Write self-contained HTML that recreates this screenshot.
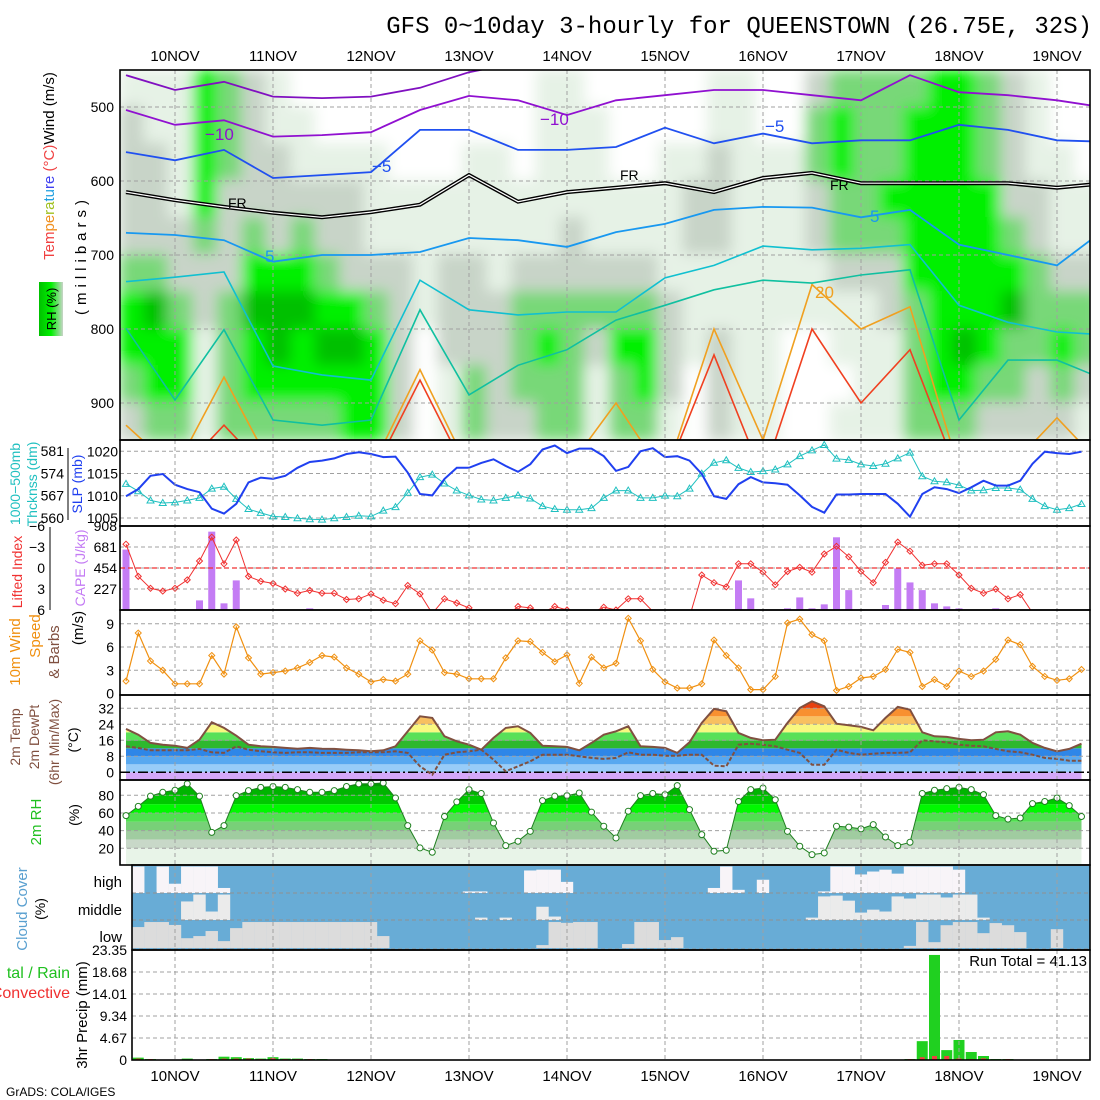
<!DOCTYPE html>
<html><head><meta charset="utf-8"><title>GFS meteogram QUEENSTOWN</title>
<style>
html,body{margin:0;padding:0;background:#fff;}
svg{display:block;font-family:"Liberation Sans",sans-serif;}
.mono{font-family:"Liberation Mono",monospace;}
</style></head>
<body>
<svg id="chart" width="1100" height="1100" viewBox="0 0 1100 1100" xmlns="http://www.w3.org/2000/svg">
<defs>
<clipPath id="c1"><rect x="120" y="70" width="970" height="370"/></clipPath>
<clipPath id="c2"><rect x="120" y="440" width="970" height="86"/></clipPath>
<clipPath id="c3"><rect x="120" y="526" width="970" height="84"/></clipPath>
<clipPath id="c4"><rect x="120" y="610" width="970" height="85"/></clipPath>
<clipPath id="c7"><rect x="132" y="866" width="958" height="84"/></clipPath>
<filter id="blur" x="-5%" y="-5%" width="110%" height="110%"><feGaussianBlur stdDeviation="7"/></filter>
<linearGradient id="rhg" x1="0" y1="0" x2="1" y2="0"><stop offset="0" stop-color="#00c000"/><stop offset="0.5" stop-color="#00f000"/><stop offset="1" stop-color="#c8d4c8"/></linearGradient>
</defs>
<rect x="0" y="0" width="1100" height="1100" fill="#fff"/>
<text class="mono" x="1092" y="33" font-size="24" text-anchor="end">GFS 0~10day 3-hourly for QUEENSTOWN (26.75E, 32S)</text>
<g id="plots"></g>
<g id="labels" font-size="15"></g>
</svg>
<script>
// ===== data (3-hourly, k = 0..78, starting 09NOV 12Z) =====
const dayLabels = ["10NOV","11NOV","12NOV","13NOV","14NOV","15NOV","16NOV","17NOV","18NOV","19NOV"];
const pressTicks = [500,600,700,800,900];
// upper-air RH (%), 6-hourly columns, each column: 450-500 ... 900-950 mb bands
const rhUpper = [
[20,40,40,40,40,60,80,80,60,40],[20,20,40,40,40,60,95,80,80,60],[20,20,20,20,40,40,60,80,80,60],[80,80,80,80,60,40,40,20,20,20],
[60,60,60,40,40,40,60,60,60,60],[40,40,40,40,60,80,95,80,80,60],[20,20,40,40,40,80,95,95,80,60],[5,20,20,40,60,80,95,80,80,60],
[5,5,20,40,40,60,80,95,80,60],[5,5,20,40,40,40,80,95,80,80],[5,5,20,20,20,40,60,80,80,80],[5,5,5,20,20,40,40,40,40,40],
[5,5,5,20,20,20,20,5,5,5],[5,5,5,20,20,40,40,40,20,20],[5,5,20,20,20,40,40,40,60,60],[5,5,20,20,20,20,40,40,40,40],
[5,5,5,20,20,40,60,60,60,40],[20,20,20,20,20,40,60,80,60,60],[20,20,20,20,40,40,60,60,60,60],[5,20,20,20,20,40,60,40,20,20],
[5,5,5,20,20,40,60,80,60,60],[5,5,5,20,20,40,60,80,80,60],[5,5,20,20,20,20,40,40,40,20],[5,5,20,40,40,20,20,20,5,5],
[20,20,40,40,40,20,20,40,40,40],[20,20,20,20,20,20,20,20,20,20],[5,5,20,20,20,20,20,20,20,20],[5,5,20,20,20,20,20,5,5,5],
[40,60,60,40,40,20,20,5,5,5],[60,80,80,60,60,40,20,20,5,20],[60,60,60,60,60,40,20,20,20,20],[60,60,60,80,60,40,40,20,20,20],
[60,80,80,80,80,80,60,60,60,60],[80,80,80,80,80,80,80,80,80,60],[80,80,80,80,80,80,80,95,80,60],[60,60,60,80,80,80,80,80,60,40],
[40,40,40,40,60,80,95,60,60,40],[20,20,20,40,40,60,60,60,40,40],[5,5,20,20,20,40,60,80,60,40],[5,5,5,20,20,40,60,60,40,20]];
// temperature contours: pressure (mb) of isotherm, 12-hourly
const isoM15 = [457,477,466,486,488,486,474,453,440,440,440,440,440,440,440,440,440,440,440,440,440];
const isoM10 = [504,524,518,540,538,534,504,485,491,511,491,484,477,477,484,491,457,480,484,491,501];
const isoM5  = [561,572,558,596,592,588,531,531,558,558,554,528,549,536,549,545,545,524,531,545,547];
const isoFR  = [615,626,635,643,649,642,632,592,628,615,609,603,615,596,589,603,603,603,603,609,603];
const isoP5  = [670,673,680,709,700,700,696,677,680,689,669,658,639,635,636,649,639,686,700,714,664];
const isoP10 = [736,730,723,850,862,869,734,774,781,777,777,731,714,688,693,691,686,768,791,804,808];
const isoP15 = [799,896,801,923,930,923,774,889,849,828,788,768,747,734,738,727,720,923,842,842,869];
const isoP20 = [930,990,865,990,990,990,855,990,990,990,900,1000,800,950,740,800,770,990,990,920,990];
const isoP25 = [1000,1000,930,1000,1000,1000,869,1000,1000,1000,1000,1000,835,1000,800,900,828,1000,1000,1000,1000];
const slp = [1009.9,1011.5,1014.5,1014.9,1012.5,1011.5,1010.8,1007.1,1006,1008.2,1013,1014.1,1013.8,1014.5,1016.3,1017.6,1017.9,1018.4,1019.4,1019.8,1019.4,1018.7,1018.8,1015.2,1010.4,1010.1,1013.8,1016.3,1016.3,1017.4,1018.2,1016.7,1015.4,1017.1,1020.4,1021.3,1019.6,1020.6,1020.6,1018.9,1015.6,1016.5,1020,1020.7,1018.7,1018.9,1017.9,1014.9,1009.9,1009.3,1012.6,1014.2,1013,1012.8,1012.5,1010.1,1007.5,1006.2,1010.3,1010.3,1010.4,1010.4,1010.4,1008.2,1005.3,1010.4,1011.9,1011.5,1010.6,1011.9,1013.4,1012.3,1012.3,1013.4,1017.2,1019.9,1019.6,1019.4,1019.9];
const thick = [570.7,568.4,565.5,564.7,564.9,565.5,566.3,569.2,569.8,566,562.8,561.6,560.5,560.3,559.9,559.6,559.5,559.9,560.3,560.7,560.5,562.3,563.4,567.9,572.8,573.6,570.8,568.6,567.1,565.8,565.5,566.3,567.1,566.1,563.7,562.8,562.6,562.6,563.1,566.3,568.6,568.6,566.3,566.3,567,566.8,569.2,573.9,577.3,578.1,575.7,574.4,574.7,575.2,576.8,579.4,581.2,582.9,578.6,578.2,576.8,576.3,577,578.7,580.5,573.1,571.5,571.2,570.3,568.6,568.7,569.4,569.4,568.9,566,563.7,562.6,563.1,564.4];
const liftedIndex = [-3.4,1.2,2.9,3.3,2.9,1.7,-1,-4.4,-0.6,-4,1.2,1.9,2.2,3,3.6,3.2,3.6,3.6,4.5,4.4,3.7,4.6,5.1,2.5,3.7,6.5,4.4,5,5.7,7,7,7,5.5,5.7,6.4,5.5,6,6.4,6.4,5.6,6,4.4,4.4,6.2,7,7,7,1,2.1,2.7,-0.6,-0.6,0.6,2.4,0.5,-0.1,0.6,-2,-3.1,-1.6,0.5,2.1,-0.8,-3.7,-2.4,-0.4,-0.6,-0.6,1,2.9,3.6,3,4.4,3.8,6.4,7,7,7,7];
const cape = [653,7,0,7,0,0,104,847,72,320,5,5,5,5,5,18,5,5,5,5,5,5,5,0,0,0,0,0,0,0,0,0,0,0,0,0,0,0,0,0,0,0,7,0,0,0,0,0,0,0,320,126,0,0,18,136,18,61,786,215,7,0,54,449,298,215,72,39,18,0,5,18,5,5,0,0,0,0,0];
const windSpd = [1.6,7.8,4.2,3,1.25,1.25,1.25,4.9,2.5,8.6,4.6,2.5,2.7,2.9,3.3,4,4.9,4.7,3.3,2.5,1.5,1.8,1.6,2.5,6.8,5.6,2.7,2.5,1.9,1.9,1.9,4.6,6.8,6.7,5.3,4.1,5,1.3,4.7,3.3,3.9,9.7,6.8,3.1,1.5,0.7,0.7,1.25,6.9,4.9,3.3,0.5,0.5,2.2,9.1,9.6,7.6,6.8,0.4,0.9,2,2.2,3.1,5.7,5.3,0.9,1.8,0.9,2.9,2.2,2.9,4.4,6.9,6.3,3.5,2.2,1.7,1.9,3.1];
const temp2m = [21.7,18.8,14.7,13.8,13.3,12.2,16.3,25,22.2,18.3,13.8,13,12.7,12.2,11.8,12.2,11.8,11.7,11.3,11,10.5,11,13,20.5,28,27.2,18,15.5,13.8,11.3,17.2,22.2,23,19.7,13.3,13,12.7,11,14.7,18.8,20.5,23,13,12.7,12.2,9.7,15,24.7,31.7,30.5,19.7,17.2,16,16.3,24.7,32.2,35.5,33,24.3,23.5,22.7,21,27.2,32.7,31.3,20,18,17.7,16.7,16,16.3,20,20.5,18.8,14.7,12.2,10.5,11.7,14.3];
const dew2m = [13,12.2,11,11,11,11,11.7,10,9.7,13,11.3,10.5,10,9.7,10,10,9.7,9.7,9.7,10,10,10,10.5,9.7,3,-1.2,8.8,10,10.5,11.3,6.3,0.5,3,5.5,8.8,8.8,8.8,8,7.2,6.7,7.2,10,8.8,8.8,8.3,8.3,8.8,8.8,3.3,3,13.8,14.3,13.8,13,11.3,9.7,3.8,3.8,11.3,9.7,8.8,9.3,9.7,9.7,10,16,15.5,15,13.8,13.3,13,11.7,10.5,10,8.8,7.2,6.7,5.8,5.8];
const rh2m = [57,67.5,79,83.4,85.7,93,79,38,45.7,79.6,85.3,89,90,89,86.4,83.4,83.4,85.3,90,93,93,94,77,45.7,20.4,15.5,56,72.5,86.4,82,48.7,23,28,39.2,74,79,79.6,82.6,61,45,31.7,62,79.6,82,80.8,91,63.8,35.5,16.6,17.7,73,86.4,88.3,75,39.2,22.3,12.8,14.7,45,44,42,46.8,32.8,23,26.8,82,85.7,87.5,89,86.4,80.8,57,53,54.3,70.6,73,77,68.3,56];
const cloudHigh = [0,100,0,100,35,100,100,100,19,0,0,0,0,0,0,0,0,0,0,0,0,0,0,0,0,0,0,0,6,6,0,0,0,85,88,88,42,0,0,0,0,0,0,0,0,0,0,0,19,100,12,0,50,0,0,0,0,6,100,100,70,81,88,73,100,100,100,100,88,0,0,0,0,0,0,0,0,0,0];
const cloudMid = [0,0,0,0,0,70,96,32,96,0,0,0,0,0,0,0,0,0,0,0,0,0,0,0,0,0,0,0,0,9,0,9,0,0,50,13,0,0,0,0,0,0,0,0,0,0,0,0,0,0,0,0,0,0,0,0,9,89,92,73,28,39,32,89,81,96,96,85,96,96,9,0,0,0,0,0,0,0,0];
const cloudLow = [0,79,98,98,87,37,45,64,26,75,98,98,98,98,98,98,98,98,98,98,98,45,0,0,0,0,0,0,0,0,0,0,0,0,11,98,95,98,98,0,0,15,98,98,30,41,0,0,0,0,0,0,0,0,0,0,0,0,0,0,0,0,0,0,8,98,22,86,98,98,56,94,86,60,0,0,71,0,0];
const precipTotal = [0,0.5,0.2,0.1,0.1,0.3,0.1,0.2,0.7,0.6,0.4,0.3,0.6,0.3,0.3,0.2,0.2,0.1,0,0,0,0,0,0,0,0,0,0,0,0,0,0,0,0,0,0,0,0,0,0.1,0,0,0,0,0,0,0,0,0,0,0,0,0,0,0,0,0,0,0,0,0,0,0,0,0.2,4,22.3,2.1,4.25,1.7,0.85,0.2,0.2,0,0,0,0,0,0];
const precipConv = [0,0.3,0.2,0.1,0.1,0.1,0.1,0.2,0.3,0.3,0.3,0.2,0.4,0.2,0.2,0.2,0.1,0.1,0,0,0,0,0,0,0,0,0,0,0,0,0,0,0,0,0,0,0,0,0,0,0,0,0,0,0,0,0,0,0,0,0,0,0,0,0,0,0,0,0,0,0,0,0,0,0.2,0.6,0.85,0.85,0.35,0.2,0.35,0,0.2,0,0,0,0,0,0];
const slpTicks = [1005,1010,1015,1020];
const thickTicks = [560,567,574,581];
const capeTicks = [227,454,681,908];
const liTicks = [-6,-3,0,3,6];
const windTicks = [0,3,6,9];
const tempTicks = [0,8,16,24,32];
const rhTicks = [20,40,60,80];
const precipTicks = [0,4.67,9.34,14.01,18.68,23.35];
const runTotal = "41.13";

// ===== scales =====
const NS = "http://www.w3.org/2000/svg";
const X = k => 126 + 12.25*k;
const DX = d => 175 + 98*d;
const PY = p => 107 + (p-500)*0.74;
const SY = v => 451.3 + (1020-v)*4.45;
const TKY = v => 451 + (581-v)*3.19;
const LIY = v => 568 + v*7;
const CAY = v => 610 - v*84/908;
const WY = v => 693.5 - v*7.75;
const TY = v => 772.3 - v*2;
const RY = v => 795.3 + (80-v)*0.883;
const PRY = v => 1060 - v*110/23.35;

const plots = document.getElementById('plots');
const labels = document.getElementById('labels');
function el(tag, attrs, parent){ const e=document.createElementNS(NS,tag); for(const a in attrs) e.setAttribute(a,attrs[a]); (parent||plots).appendChild(e); return e; }
function group(clip){ const g=el('g', clip?{'clip-path':'url(#'+clip+')'}:{}); return g; }
function pts(arr, fx, fy){ return arr.map((v,i)=>fx(i).toFixed(1)+','+fy(v).toFixed(1)).join(' '); }

// ===== panel 1: upper air =====
const g1 = group('c1');
const rhCol = v => v>=90?'#00c000':v>=70?'#00f000':v>=50?'#78d878':v>=30?'#c8d4c8':v>=10?'#e6f2e6':'#ffffff';
const gBlur = el('g',{filter:'url(#blur)'},g1);
rhUpper.forEach((col,i)=>{ col.forEach((v,r)=>{
  const c = el('rect',{x:120+24.5*i-1,y:PY(450+50*r)-1,width:26.5,height:39,fill:rhCol(v)},gBlur);
  
  
});});
pressTicks.forEach(p=>{ const l=el('line',{x1:120,x2:1090,y1:PY(p),y2:PY(p),stroke:'#a0a0a0','stroke-dasharray':'4,3'},g1);
    });
dayLabels.forEach((d,i)=>{ const l=el('line',{x1:DX(i),x2:DX(i),y1:70,y2:440,stroke:'#a0a0a0','stroke-dasharray':'4,3'},g1);
    });
const iso = [[isoP25,'#f04020',1.6,'isotherm-25'],[isoP20,'#f0a020',1.6,'isotherm-20'],[isoP15,'#10c0a0',1.6,'isotherm-15'],[isoP10,'#10c0d0',1.6,'isotherm-10'],[isoP5,'#1898f0',1.8,'isotherm-5'],[isoM5,'#2050f0',1.8,'isotherm-minus5'],[isoM10,'#9010d0',1.8,'isotherm-minus10'],[isoM15,'#8010c0',1.8,'isotherm-minus15']];
iso.forEach(s=>{ const l=el('polyline',{points:pts(s[0],j=>X(4*j),PY),fill:'none',stroke:s[1],'stroke-width':s[2]},g1);
    });
const fr1 = el('polyline',{points:pts(isoFR,j=>X(4*j),PY),fill:'none',stroke:'#000','stroke-width':4},g1);
 
const fr2 = el('polyline',{points:pts(isoFR,j=>X(4*j),PY),fill:'none',stroke:'#fff','stroke-width':1.2},g1);
 
[['−10',205,140,'#9010d0'],['−10',540,125,'#9010d0'],['−5',372,172,'#2050f0'],['−5',765,132,'#2050f0'],['FR',228,208,'#000'],['FR',620,180,'#000'],['FR',830,190,'#000'],['5',265,262,'#1898f0'],['5',870,222,'#1898f0'],['20',815,298,'#f0a020']].forEach(t=>{
  const e=el('text',{x:t[1],y:t[2],fill:t[3],'font-size':t[0]==='FR'?14:17},g1); e.textContent=t[0];
    });

// ===== panel 2: SLP & thickness =====
const g2 = group('c2');
slpTicks.forEach(v=>{ const l=el('line',{x1:120,x2:1090,y1:SY(v),y2:SY(v),stroke:'#a0a0a0','stroke-dasharray':'4,3'},g2);
    });
const thkLine = el('polyline',{points:pts(thick,X,TKY),fill:'none',stroke:'#20c0c0','stroke-width':1},g2);
 
thick.forEach((v,k)=>{ const x=X(k), y=TKY(v); const m=el('polygon',{points:`${x},${y-3.5} ${x-3.5},${y+2.5} ${x+3.5},${y+2.5}`,fill:'none',stroke:'#20c0c0','stroke-width':1},g2);
    });
const slpLine = el('polyline',{points:pts(slp,X,SY),fill:'none',stroke:'#2040f0','stroke-width':2},g2);
 

// ===== panel 3: CAPE & LI =====
const g3 = group('c3');
capeTicks.slice(0,3).forEach(v=>{ const l=el('line',{x1:120,x2:1090,y1:CAY(v),y2:CAY(v),stroke:'#a0a0a0','stroke-dasharray':'4,3'},g3);
    });
cape.forEach((v,k)=>{ if(v<=0) return; const b=el('rect',{x:X(k)-3.5,y:CAY(v),width:7,height:610-CAY(v),fill:'#c47cf4'},g3);
    });
const li0 = el('line',{x1:120,x2:1090,y1:LIY(0),y2:LIY(0),stroke:'#f03030','stroke-dasharray':'5,3','stroke-width':1.2},g3);
 
const liLine = el('polyline',{points:pts(liftedIndex,X,LIY),fill:'none',stroke:'#f03030','stroke-width':1},g3);
 
liftedIndex.forEach((v,k)=>{ if(v>6) return; const x=X(k), y=LIY(v); const m=el('polygon',{points:`${x},${y-3} ${x+3},${y} ${x},${y+3} ${x-3},${y}`,fill:'none',stroke:'#f03030'},g3);
    });

// ===== panel 4: wind =====
const g4 = group('c4');
windTicks.slice(1).forEach(v=>{ const l=el('line',{x1:120,x2:1090,y1:WY(v),y2:WY(v),stroke:'#a0a0a0','stroke-dasharray':'4,3'},g4);
    });
const wLine = el('polyline',{points:pts(windSpd,X,WY),fill:'none',stroke:'#f09010','stroke-width':1.2},g4);
 
windSpd.forEach((v,k)=>{ const x=X(k), y=WY(v); const m=el('polygon',{points:`${x},${y-3} ${x+3},${y} ${x},${y+3} ${x-3},${y}`,fill:'none',stroke:'#f09010'},g4);
    });

// ===== panel 5: temperature =====
const g5 = group(null);
const tclip = el('clipPath',{id:'tclip'},document.querySelector('defs'));
el('polygon',{points:`${X(0)},780 `+pts(temp2m,X,TY)+` ${X(78)},780`},tclip);
const gT = el('g',{'clip-path':'url(#tclip)'},g5);
[[-10,0,'#d4a8f8'],[0,4,'#98ccf8'],[4,8,'#58a8f0'],[8,12,'#2e86e8'],[12,16,'#2eb82e'],[16,20,'#58e058'],[20,24,'#f8f880'],[24,28,'#f8c060'],[28,32,'#f89030'],[32,45,'#e84010']].forEach(b=>{
  const r=el('rect',{x:120,y:TY(b[1]),width:970,height:TY(b[0])-TY(b[1]),fill:b[2]},gT);
    });
tempTicks.slice(1).forEach(v=>{ const l=el('line',{x1:120,x2:1090,y1:TY(v),y2:TY(v),stroke:'#a0a0a0','stroke-dasharray':'4,3'},g5);
    });
const zl = el('line',{x1:120,x2:1090,y1:TY(0),y2:TY(0),stroke:'#000','stroke-dasharray':'10,3,2,3','stroke-width':1.5},g5);
 
const dLine = el('polyline',{points:pts(dew2m,X,TY),fill:'none',stroke:'#805040','stroke-width':2,'stroke-dasharray':'4,2'},g5);
 
const tLine = el('polyline',{points:pts(temp2m,X,TY),fill:'none',stroke:'#805040','stroke-width':2},g5);
 

// ===== panel 6: 2m RH =====
const g6 = group(null);
const rclip = el('clipPath',{id:'rclip'},document.querySelector('defs'));
el('polygon',{points:`${X(0)},865 `+pts(rh2m,X,RY)+` ${X(78)},865`},rclip);
const gR = el('g',{'clip-path':'url(#rclip)'},g6);
[[0,20,'#e8f4e8'],[20,30,'#c8d8c8'],[30,40,'#a0cca0'],[40,50,'#78d078'],[50,60,'#50e050'],[60,70,'#00f800'],[70,80,'#00c800'],[80,90,'#00b400'],[90,101,'#009a00']].forEach(b=>{
  const r=el('rect',{x:120,y:RY(b[1]),width:970,height:RY(b[0])-RY(b[1]),fill:b[2]},gR);
    });
rhTicks.forEach(v=>{ const l=el('line',{x1:120,x2:1090,y1:RY(v),y2:RY(v),stroke:'#a0a0a0','stroke-dasharray':'4,3'},g6);
    });
const rLine = el('polyline',{points:pts(rh2m,X,RY),fill:'none',stroke:'#208020','stroke-width':1},g6);
 
rh2m.forEach((v,k)=>{ const c=el('circle',{cx:X(k),cy:RY(v),r:3,fill:'#fff',stroke:'#208020'},g6);
    });

// ===== panel 7: clouds =====
const g7 = group('c7');
const bg7 = el('rect',{x:132,y:866,width:958,height:84,fill:'#68acd6'},g7);
 
[[cloudHigh,893,'#f8f4f8','cloud-high-bar'],[cloudMid,920,'#ebebeb','cloud-middle-bar'],[cloudLow,948,'#dcdcdc','cloud-low-bar']].forEach(s=>{
  s[0].forEach((v,k)=>{ if(v<=0) return; const h=v*0.265; const b=el('rect',{x:X(k)-6.2,y:s[1]-h,width:12.4,height:h,fill:s[2]},g7);
      }); });
[893,920,949].forEach(y=>{ const l=el('line',{x1:132,x2:1090,y1:y,y2:y,stroke:'#909090','stroke-dasharray':'4,3'},g7);
    });

// ===== panel 8: precip =====
const g8 = group(null);
precipTicks.slice(1).forEach(v=>{ const l=el('line',{x1:132,x2:1090,y1:PRY(v),y2:PRY(v),stroke:'#a0a0a0','stroke-dasharray':'4,3'},g8);
    });
precipTotal.forEach((v,k)=>{ if(v<=0) return; const b=el('rect',{x:X(k)-5.5,y:PRY(v),width:11,height:1060-PRY(v),fill:'#20d020'},g8);
    });
precipConv.forEach((v,k)=>{ if(v<=0) return; const b=el('rect',{x:X(k)-2.5,y:PRY(v),width:5,height:1060-PRY(v),fill:'#f04040'},g8);
    });
const rt = el('text',{x:1087,y:966,'font-size':15,'text-anchor':'end'},g8); rt.textContent='Run Total = '+runTotal;
 

// day gridlines for lower panels
dayLabels.forEach((d,i)=>{
  [[440,865,120],[866,1060,132]].forEach(r=>{ const l=el('line',{x1:DX(i),x2:DX(i),y1:r[0],y2:r[1],stroke:'#a0a0a0','stroke-dasharray':'4,3'});
      });
  const t1=el('text',{x:DX(i),y:61,'font-size':15,'text-anchor':'middle'},labels); t1.textContent=d;
   
  const t2=el('text',{x:DX(i),y:1081,'font-size':15,'text-anchor':'middle'},labels); t2.textContent=d;
   
});

// frames
[[120,70,970,370],[120,440,970,86],[120,526,970,84],[120,610,970,85],[120,695,970,85],[120,780,970,85],[132,865,958,85],[132,950,958,110]].forEach(f=>{
  const r=el('rect',{x:f[0],y:f[1],width:f[2],height:f[3],fill:'none',stroke:'#000','stroke-width':1.6});
    });

// tick labels
function tick(txt,x,y,name,anchor,col,size){ const t=el('text',{x:x,y:y,'font-size':size||14,'text-anchor':anchor||'end',fill:col||'#000'},labels); t.textContent=txt;
    return t; }
pressTicks.forEach(p=>tick(p,114,PY(p)+5,'pressure-tick'));
slpTicks.forEach(v=>tick(v,118,SY(v)+5,'slp-tick'));
thickTicks.forEach(v=>tick(v,64,TKY(v)+5,'thickness-tick'));
capeTicks.forEach(v=>tick(v,117,CAY(v)+5,'cape-tick'));
liTicks.forEach(v=>tick(v===-6?'−6':v===-3?'−3':v,45,LIY(v)+5,'li-tick'));
windTicks.forEach(v=>tick(v,114,WY(v)+5,'wind-tick'));
tempTicks.forEach(v=>tick(v,114,TY(v)+5,'temp-tick'));
rhTicks.forEach(v=>tick(v,114,RY(v)+5,'rh-tick'));
precipTicks.forEach(v=>tick(v===0?'0':v.toFixed(2),127,PRY(v)+5,'precip-tick'));
tick('high',122,887,'cloud-high-label','end','#000',15);
tick('middle',122,915,'cloud-middle-label','end','#000',15);
tick('low',122,942,'cloud-low-label','end','#000',15);
const ax1 = el('line',{x1:68,x2:68,y1:448,y2:520,stroke:'#000'});  
const ax2 = el('line',{x1:50,x2:50,y1:527,y2:610,stroke:'#000'});  

// rotated axis titles
function vtext(parts,x,y,name,size,spacing){ const t=el('text',{transform:`translate(${x},${y}) rotate(-90)`,'font-size':size||14,'text-anchor':'middle','letter-spacing':spacing||0},labels);
  parts.forEach(p=>{ const s=document.createElementNS(NS,'tspan'); s.setAttribute('fill',p[1]); s.textContent=p[0]; t.appendChild(s); });
    return t; }
vtext([['Tem','#f04040'],['pe','#f09020'],['ra','#a0c020'],['tu','#20a0e0'],['re','#4040f0'],[' (°C)','#f04040'],['Wind (m/s)','#000']],54,166,'upper-axis-title',15);
vtext([['(millibars)','#000']],86,255,'pressure-axis-title',15,5);
const rhbox = el('rect',{x:39,y:282,width:24,height:54,fill:'url(#rhg)'});  
vtext([['RH (%)','#000']],56,309,'rh-legend-label',13);
vtext([['1000−500mb','#20c0c0']],20,484,'thickness-title',14);
vtext([['Thcknss (dm)','#20c0c0']],37,484,'thickness-units',14);
vtext([['SLP (mb)','#2040f0']],82,484,'slp-title',14);
vtext([['Lifted Index','#f03030']],22,572,'li-title',14);
vtext([['CAPE (J/kg)','#c47cf4']],85,568,'cape-title',14);
vtext([['10m Wind','#f09010']],20,652,'wind-title',15);
vtext([['Speed','#f09010']],40,636,'speed-title',15);
vtext([['& Barbs','#805040']],59,652,'barbs-title',15);
vtext([['(m/s)','#000']],83,628,'wind-units',15);
vtext([['2m Temp','#805040']],20,737,'temp-title',14);
vtext([['2m DewPt','#805040']],39,737,'dewpt-title',14);
vtext([['(6hr Min/Max)','#805040']],59,742,'minmax-title',14);
vtext([['(°C)','#000']],78,740,'temp-units',14);
vtext([['2m RH','#20c020']],41,822,'rh2m-title',15);
vtext([['(%)','#000']],79,815,'rh2m-units',14);
vtext([['Cloud Cover','#5aa0d0']],27,909,'cloud-title',15);
vtext([['(%)','#000']],45,909,'cloud-units',14);
vtext([['3hr Precip (mm)','#000']],87,1015,'precip-title',15);
tick('tal / Rain',70,978,'precip-total-legend','end','#20c020',16);
tick('Convective',70,998,'precip-conv-legend','end','#f03030',16);
tick('GrADS: COLA/IGES',6,1096,'credit-label','start','#000',12);
</script>
</body></html>
